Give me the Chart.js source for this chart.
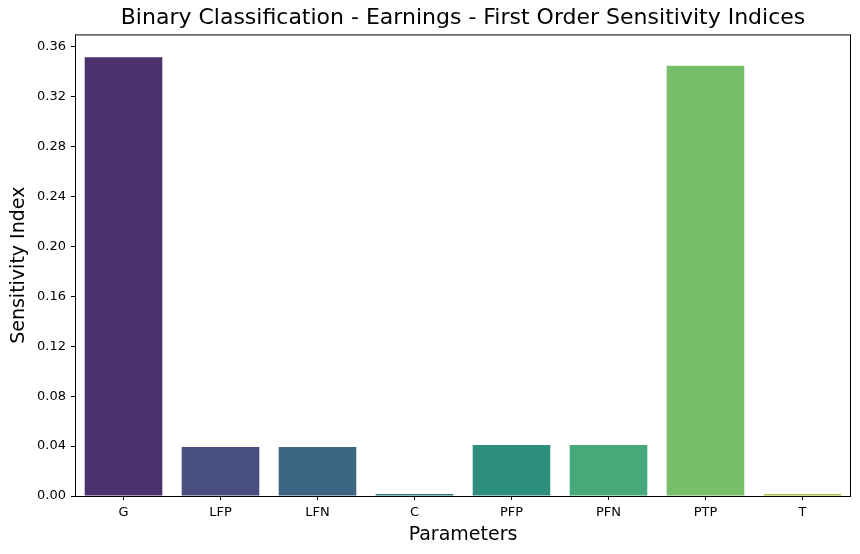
<!DOCTYPE html>
<html>
<head>
<meta charset="utf-8">
<script src="https://cdn.jsdelivr.net/npm/chart.js@4"></script>
<style>
  html, body { margin: 0; padding: 0; background: #fff; }
  #wrap { width: 860px; height: 554px; }
</style>
</head>
<body>
<div id="wrap"><canvas id="chart" width="860" height="554"></canvas></div>
<script>
// parameters and their first order indices
const params = ["G", "LFP", "LFN", "C", "PFP", "PFN", "PTP", "T"];
const indices = [0.3515, 0.0393, 0.0393, 0.0017, 0.0408, 0.0408, 0.3447, 0.0017];
const barColors = ["#4b316e", "#484f7f", "#3d6683", "#2e7a80", "#2e8e7e", "#47a879", "#77be69", "#a9c44a"];
const yTicks = [0, 0.04, 0.08, 0.12, 0.16, 0.2, 0.24, 0.28, 0.32, 0.36];

const FONT = "'DejaVu Sans', sans-serif";

// draw the full box around the plot (like matplotlib spines)
const frame = {
  id: "frame",
  afterDatasetsDraw(chart) {
    const a = chart.chartArea;
    const c = chart.ctx;
    c.save();
    c.strokeStyle = "#000";
    c.lineWidth = 1;
    c.strokeRect(a.left + 0.5, a.top + 0.5, a.right - a.left - 1, a.bottom - a.top);
    c.restore();
  }
};

new Chart(document.getElementById("chart"), {
  type: "bar",
  data: {
    labels: params,
    datasets: [{
      data: indices,
      backgroundColor: barColors,
      borderWidth: 0,
      categoryPercentage: 0.8,
      barPercentage: 1.0
    }]
  },
  options: {
    responsive: false,
    animation: false,
    layout: { padding: { left: 0, right: 9, top: 0, bottom: 0 } },
    plugins: {
      legend: { display: false },
      tooltip: { enabled: false },
      title: {
        display: true,
        fullSize: false,
        text: "Binary Classification - Earnings - First Order Sensitivity Indices",
        color: "#000",
        font: { family: FONT, size: 22, weight: "normal" },
        padding: { top: 5, bottom: 3 }
      }
    },
    scales: {
      x: {
        offset: true,
        afterFit(s) { s.height = 58; },
        grid: { display: true, drawOnChartArea: false, drawTicks: true, tickLength: 4, color: "#000", offset: false },
        border: { display: false },
        ticks: { color: "#000", font: { family: FONT, size: 13 }, padding: 5, maxRotation: 0 },
        title: {
          display: true, text: "Parameters", color: "#000",
          font: { family: FONT, size: 19 }, padding: { top: 0, bottom: 8 }
        }
      },
      y: {
        min: 0,
        max: 0.3698,
        afterFit(s) { s.width = 75; },
        afterBuildTicks(s) { s.ticks = yTicks.map(v => ({ value: v })); },
        grid: { display: true, drawOnChartArea: false, drawTicks: true, tickLength: 4, color: "#000" },
        border: { display: false },
        ticks: {
          color: "#000", font: { family: FONT, size: 13 }, padding: 5,
          callback: v => Number(v).toFixed(2)
        },
        title: {
          display: true, text: "Sensitivity Index", color: "#000",
          font: { family: FONT, size: 19 }, padding: { top: 8, bottom: 0 }
        }
      }
    }
  },
  plugins: [frame]
});
</script>
</body>
</html>
